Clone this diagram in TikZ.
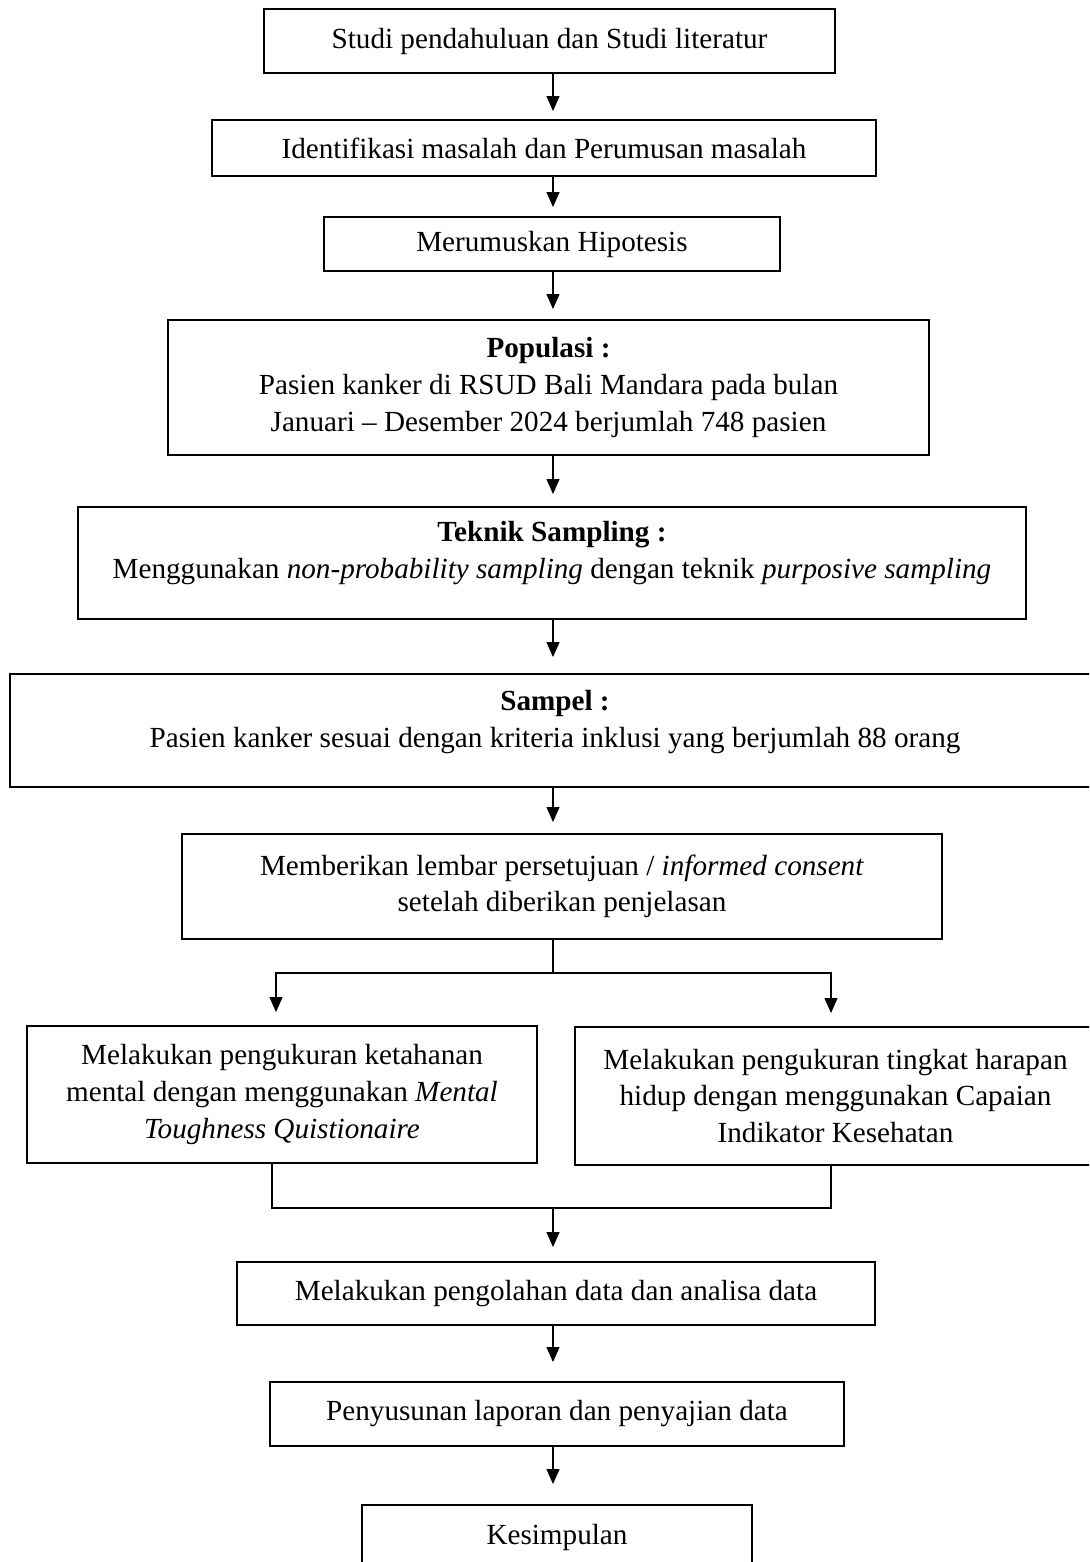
\documentclass[tikz,border=0pt]{standalone}
\usepackage{fontspec}
\setmainfont{Liberation Serif}
\usetikzlibrary{arrows.meta}

\tikzset{
  kotak/.style={draw, line width=1.1pt, align=center, inner sep=0pt, font=\fontsize{16.6}{20.8}\selectfont},
  panah/.style={-{Triangle[length=0.3cm,width=0.26cm]}, line width=0.6pt, shorten >=0.24cm},
  garis/.style={line width=0.6pt}
}

\begin{document}
\begin{tikzpicture}[x=0.02cm, y=-0.02cm]
			%%%%% START %%%%%
			\useasboundingbox (0,0) rectangle (1089,1562);
			\clip (0,0) rectangle (1089,1562);
			
			\coordinate (poros) at (553,0);
			
			\node[kotak, minimum width=11.42cm, minimum height=1.28cm] (studi) at (549.5,41) {Studi pendahuluan dan Studi literatur};
			\node[kotak, minimum width=13.28cm, minimum height=1.12cm] (identifikasi) at (544,148) {Identifikasi masalah dan Perumusan masalah};
			\node[kotak, minimum width=9.12cm, minimum height=1.08cm] (hipotesis) at (552,244) {Merumuskan Hipotesis};
			\node[kotak, minimum width=15.22cm, minimum height=2.70cm] (populasi) at (548.5,387.5) {\textbf{Populasi :}\\Pasien kanker di RSUD Bali Mandara pada bulan\\Januari -- Desember 2024 berjumlah 748 pasien};
			\node[kotak, minimum width=18.96cm, minimum height=2.24cm, text depth=15pt] (teknik) at (552,563) {\textbf{Teknik Sampling :}\\Menggunakan \textit{non-probability sampling} dengan teknik \textit{purposive sampling}};
			\node[kotak, minimum width=21.80cm, minimum height=2.26cm, text depth=13pt] (sampel) at (555,730.5) {\textbf{Sampel :}\\Pasien kanker sesuai dengan kriteria inklusi yang berjumlah 88 orang};
			\node[kotak, minimum width=15.20cm, minimum height=2.10cm] (persetujuan) at (562,886.5) {Memberikan lembar persetujuan / \textit{informed consent}\\setelah diberikan penjelasan};
			
			\node[kotak, minimum width=10.20cm, minimum height=2.74cm] (mental) at (282,1094.5) {Melakukan pengukuran ketahanan\\mental dengan menggunakan \textit{Mental}\\\textit{Toughness Quistionaire}};
			\node[kotak, minimum width=10.42cm, minimum height=2.76cm] (harapan) at (835.5,1096) {Melakukan pengukuran tingkat harapan\\hidup dengan menggunakan Capaian\\Indikator Kesehatan};
			
			\node[kotak, minimum width=12.76cm, minimum height=1.26cm] (olah) at (556,1293.5) {Melakukan pengolahan data dan analisa data};
			\node[kotak, minimum width=11.48cm, minimum height=1.28cm] (laporan) at (557,1414) {Penyusunan laporan dan penyajian data};
			\node[kotak, minimum width=7.80cm, minimum height=1.28cm] (simpulan) at (557,1537) {Kesimpulan};
			
			\draw[panah, shorten >=0.16cm] (studi.south -| poros) -- (identifikasi.north -| poros);
			\draw[panah, shorten >=0.18cm] (identifikasi.south -| poros) -- (hipotesis.north -| poros);
			\draw[panah, shorten >=0.2cm] (hipotesis.south -| poros) -- (populasi.north -| poros);
			\draw[panah] (populasi.south -| poros) -- (teknik.north -| poros);
			\draw[panah, shorten >=0.32cm] (teknik.south -| poros) -- (sampel.north -| poros);
			\draw[panah, shorten >=0.22cm] (sampel.south -| poros) -- (persetujuan.north -| poros);
			
			\coordinate (cabang) at (553,973);
			\draw[garis] (persetujuan.south -| poros) -- (cabang);
			\draw[panah, shorten >=0.26cm] (cabang) -| ([xshift=-0.12cm]mental.north);
			\draw[panah, shorten >=0.26cm] (cabang) -| ([xshift=-0.09cm]harapan.north);
			
			\coordinate (gabung) at (553,1208);
			\draw[garis] ([xshift=-0.2cm]mental.south) |- (gabung) -| ([xshift=-0.09cm]harapan.south);
			\draw[panah, shorten >=0.28cm] (gabung) -- (gabung |- olah.north);
			
			\draw[panah, shorten >=0.38cm] (olah.south -| poros) -- (laporan.north -| poros);
			\draw[panah, shorten >=0.4cm] (laporan.south -| poros) -- (simpulan.north -| poros);
			
			%%%%% END %%%%%
\end{tikzpicture}
\end{document}
